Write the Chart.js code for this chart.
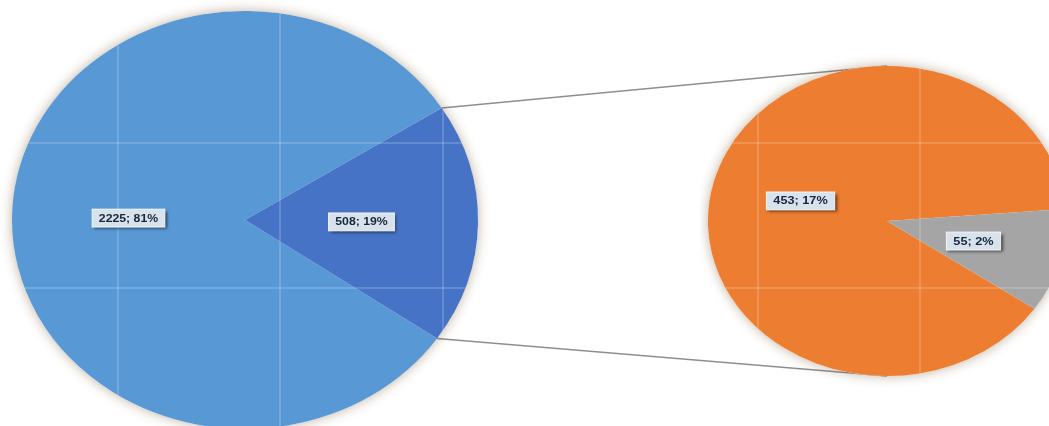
<!DOCTYPE html>
<html>
<head>
<meta charset="utf-8">
<script src="https://cdn.jsdelivr.net/npm/chart.js@4.4.0/dist/chart.umd.min.js"></script>
<style>
  html, body { margin: 0; padding: 0; background: #fff; width: 1049px; height: 426px; overflow: hidden; position: relative; }
  canvas { position: absolute; }
  #mainPie { left: 0; top: 0; }
  #subPie { left: 700px; top: 46px; }
</style>
</head>
<body>
<canvas id="mainPie" width="1049" height="429"></canvas>
<canvas id="subPie" width="374" height="350"></canvas>
<script>
// --- data ---
const mainLabels = ['Slice 1', 'Slice 2'];
const mainValues = [2225, 508];
const subLabels = ['Slice 2a', 'Slice 2b'];
const subValues = [453, 55];

const mainColors = ['#5899d5', '#4673c6'];
const subColors = ['#ed7d31', '#a5a5a5'];
const grandTotal = mainValues.reduce((a, b) => a + b, 0);

// page positions of the two canvases and the faint grid
const OFFSETS = { mainPie: { left: 0, top: 0 }, subPie: { left: 700, top: 46 } };
const GRID_X = [118, 280, 443, 758, 920];
const GRID_Y = [143, 288];

// draws the pie stretched sideways, with a soft shadow, grid and labels
const stretchPlugin = {
    id: 'stretch',
    beforeDatasetsDraw(chart, args, opts) {
        const arc = chart.getDatasetMeta(0).data[0];
        const ctx = chart.ctx;
        ctx.save();
        ctx.translate(arc.x, 0);
        ctx.scale(opts.sx, 1);
        ctx.translate(-arc.x, 0);
        ctx.save();
        ctx.shadowColor = 'rgba(110,80,40,0.45)';
        ctx.shadowBlur = 12;
        ctx.fillStyle = '#fff';
        ctx.beginPath();
        ctx.arc(arc.x, arc.y, arc.outerRadius, 0, Math.PI * 2);
        ctx.fill();
        ctx.restore();
    },
    afterDatasetsDraw(chart, args, opts) {
        const meta = chart.getDatasetMeta(0);
        const arc = meta.data[0];
        const ctx = chart.ctx;
        const off = OFFSETS[chart.canvas.id];

        // grid lines, only visible over the pie
        ctx.save();
        ctx.beginPath();
        ctx.arc(arc.x, arc.y, arc.outerRadius, 0, Math.PI * 2);
        ctx.clip();
        const dpr = chart.currentDevicePixelRatio;
        ctx.setTransform(dpr, 0, 0, dpr, 0, 0);
        ctx.strokeStyle = 'rgba(255,255,255,0.22)';
        ctx.lineWidth = 1.5;
        GRID_X.forEach(px => {
            const x = px - off.left;
            ctx.beginPath(); ctx.moveTo(x, 0); ctx.lineTo(x, chart.height); ctx.stroke();
        });
        GRID_Y.forEach(py => {
            const y = py - off.top;
            ctx.beginPath(); ctx.moveTo(0, y); ctx.lineTo(chart.width, y); ctx.stroke();
        });
        ctx.restore();

        // value labels
        const values = chart.data.datasets[0].data;
        ctx.font = 'bold 11px "Liberation Sans", Arial, sans-serif';
        ctx.textAlign = 'center';
        ctx.textBaseline = 'middle';
        meta.data.forEach((el, i) => {
            const p = el.getCenterPoint();
            const text = values[i] + '; ' + Math.round(values[i] / grandTotal * 100) + '%';
            const w = ctx.measureText(text).width + 12;
            const h = 18;
            ctx.save();
            ctx.shadowColor = 'rgba(0,0,0,0.6)';
            ctx.shadowBlur = 3;
            ctx.shadowOffsetX = 2;
            ctx.shadowOffsetY = 2;
            ctx.fillStyle = '#d8e2ec';
            ctx.fillRect(p.x - w / 2, p.y - h / 2, w, h);
            ctx.restore();
            ctx.strokeStyle = 'rgba(255,255,255,0.8)';
            ctx.lineWidth = 1;
            ctx.strokeRect(p.x - w / 2, p.y - h / 2, w, h);
            ctx.fillStyle = '#17263a';
            ctx.fillText(text, p.x, p.y + 0.5);
        });
        ctx.restore();
    }
};

// grey lines joining the split slice to the second pie
let subChart;
const connectorPlugin = {
    id: 'connector',
    beforeDatasetsDraw(chart) {
        if (!subChart) return;
        const ctx = chart.ctx;
        const split = chart.getDatasetMeta(0).data[1];
        const sx = chart.options.plugins.stretch.sx;
        const sub = subChart.getDatasetMeta(0).data[0];
        const so = OFFSETS.subPie, mo = OFFSETS.mainPie;
        const subX = sub.x + so.left - mo.left;
        const subTop = sub.y - sub.outerRadius + so.top - mo.top;
        const subBottom = sub.y + sub.outerRadius + so.top - mo.top;
        const pt = a => [split.x + sx * split.outerRadius * Math.cos(a), split.y + split.outerRadius * Math.sin(a)];
        const a1 = pt(split.startAngle), a2 = pt(split.endAngle);
        ctx.save();
        ctx.strokeStyle = '#8e8e8e';
        ctx.lineWidth = 1.5;
        ctx.beginPath();
        ctx.moveTo(a1[0], a1[1]); ctx.lineTo(subX, subTop);
        ctx.moveTo(a2[0], a2[1]); ctx.lineTo(subX, subBottom);
        ctx.stroke();
        ctx.restore();
    }
};

const baseOptions = (sx, rotation, padding) => ({
    responsive: false,
    animation: false,
    rotation: rotation,
    layout: { padding: padding },
    events: [],
    plugins: {
        legend: { display: false },
        tooltip: { enabled: false },
        stretch: { sx: sx }
    }
});

subChart = new Chart(document.getElementById('subPie'), {
    type: 'pie',
    data: { labels: subLabels, datasets: [{ data: subValues, backgroundColor: subColors, borderWidth: 0 }] },
    options: baseOptions(1.155, 124.5, { top: 20, bottom: 20 }),
    plugins: [stretchPlugin]
});

new Chart(document.getElementById('mainPie'), {
    type: 'pie',
    data: { labels: mainLabels, datasets: [{ data: mainValues, backgroundColor: mainColors, borderWidth: 0 }] },
    options: baseOptions(1.115, 124.5, { top: 11, right: 559 }),
    plugins: [connectorPlugin, stretchPlugin]
});
</script>
</body>
</html>
